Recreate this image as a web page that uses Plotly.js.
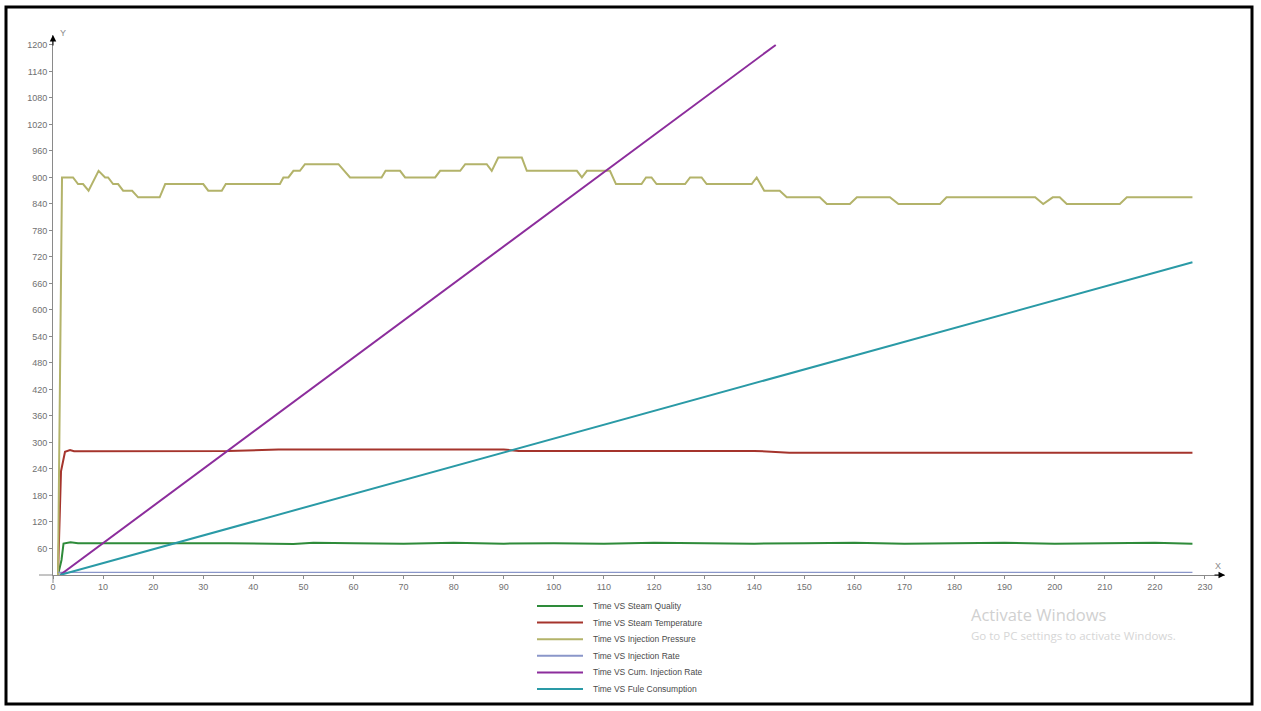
<!DOCTYPE html>
<html>
<head>
<meta charset="utf-8">
<script src="https://cdn.plot.ly/plotly-3.0.1.min.js"></script>
<style>
  html, body { margin: 0; padding: 0; background: #ffffff; }
  #chart { width: 1261px; height: 711px; }
</style>
</head>
<body>
<div id="chart"></div>
<script>
// ---- series data (time in minutes) ----
const qualityT = [1.0, 1.7, 2.1, 3.5, 5, 15, 25, 35, 48, 52, 60, 70, 80, 90, 100, 110, 120, 130, 140, 150, 160, 170, 180, 190, 200, 210, 220, 227.5];
const qualityV = [0, 34, 71, 74, 72, 72, 71, 72, 70, 73, 72, 71, 73, 71, 72, 71, 73, 72, 71, 72, 73, 71, 72, 73, 71, 72, 73, 71];

const temperatureT = [1.0, 1.6, 2.4, 3.4, 4.2, 20, 35, 45, 60, 75, 90, 93, 140, 147, 227.5];
const temperatureV = [0, 235, 279, 283, 280, 280, 281, 284, 284, 283, 284, 281, 281, 277, 277];

const pressureT = [1.0, 1.8, 4.0, 5.0, 6.0, 7.1, 9.1, 10.4, 11.0, 12.0, 13.0, 14.0, 15.8, 17.0, 21.3, 22.4,
  30.0, 31.0, 33.7, 34.5, 45.3, 46.0, 47.0, 48.0, 49.3, 50.3, 57.0, 59.3, 65.6, 66.4, 69.3, 70.3,
  76.3, 77.3, 81.3, 82.3, 86.6, 87.6, 88.9, 93.6, 94.6, 104.6, 105.6, 106.6, 111.2, 112.4, 117.5,
  118.4, 119.5, 120.5, 126.2, 127.2, 129.5, 130.5, 139.5, 140.5, 142.0, 145.1, 146.5, 153.1, 154.5,
  159.1, 160.5, 167.1, 168.8, 177.1, 178.4, 196.1, 197.7, 199.6, 201.0, 202.4, 213.0, 214.4, 227.5];
const pressureV = [0, 900, 900, 885, 885, 870, 915, 900, 900, 885, 885, 870, 870, 855, 855, 885,
  885, 870, 870, 885, 885, 900, 900, 915, 915, 930, 930, 900, 900, 915, 915, 900,
  900, 915, 915, 930, 930, 915, 945, 945, 915, 915, 900, 915, 915, 885, 885,
  900, 900, 885, 885, 900, 900, 885, 885, 900, 870, 870, 855, 855, 840,
  840, 855, 855, 840, 840, 855, 855, 840, 855, 855, 840, 840, 855, 855];

const rateT = [1, 50, 100, 150, 200, 227.5];
const rateV = [6, 6, 6, 6, 6, 6];

const cumRateT = [1.4, 144.3];
const cumRateV = [0, 1200];

const fuelT = [1.4, 227.5];
const fuelV = [0, 708];

const seriesNames = [
  'Time VS Steam Quality',
  'Time VS Steam Temperature',
  'Time VS Injection Pressure',
  'Time VS Injection Rate',
  'Time VS Cum. Injection Rate',
  'Time VS Fule Consumption'
];
const seriesColors = ['#2e8b3a', '#a5342c', '#b3b36a', '#8a96c9', '#8c2d9c', '#2a9aa6'];

const xTicks = [0, 10, 20, 30, 40, 50, 60, 70, 80, 90, 100, 110, 120, 130, 140, 150, 160, 170, 180, 190, 200, 210, 220, 230];
const yTicks = [60, 120, 180, 240, 300, 360, 420, 480, 540, 600, 660, 720, 780, 840, 900, 960, 1020, 1080, 1140, 1200];

// ---- page geometry ----
const W = 1261, H = 711;
const M = { l: 53, r: 36, t: 35, b: 136 };
const plotW = W - M.l - M.r, plotH = H - M.t - M.b;
const px = v => (v - M.l) / plotW;           // pixel x -> paper x
const py = v => (H - M.b - v) / plotH;       // pixel y -> paper y

const xs = [qualityT, temperatureT, pressureT, rateT, cumRateT, fuelT];
const ys = [qualityV, temperatureV, pressureV, rateV, cumRateV, fuelV];
const widths = [2, 2, 2, 1.3, 2, 2];

const traces = seriesNames.map((name, i) => ({
  type: 'scatter',
  mode: 'lines',
  name: name,
  x: xs[i],
  y: ys[i],
  line: { color: seriesColors[i], width: widths[i] },
  cliponaxis: false,
  hoverinfo: 'skip'
}));

const tickFont = { family: 'Liberation Sans, Arial, sans-serif', size: 9, color: '#707070' };
const axisGrey = '#8a8a8a';

const shapes = [
  // outer frame
  { type: 'rect', xref: 'paper', yref: 'paper', x0: px(6), x1: px(1252), y0: py(7), y1: py(704),
    line: { color: '#000', width: 3 }, fillcolor: 'rgba(0,0,0,0)' },
  // short axis stubs past the origin
  { type: 'line', xref: 'paper', yref: 'paper', x0: px(39), x1: 0, y0: 0, y1: 0, line: { color: axisGrey, width: 1 } },
  { type: 'line', xref: 'paper', yref: 'paper', x0: 0, x1: 0, y0: py(583), y1: 0, line: { color: axisGrey, width: 1 } }
];

const annotations = [
  // axis arrow heads and names
  { xref: 'paper', yref: 'paper', x: 0, y: 1, ax: 0, ay: 12, text: '', showarrow: true,
    arrowhead: 2, arrowsize: 1.3, arrowwidth: 1, arrowcolor: '#000' },
  { xref: 'paper', yref: 'paper', x: 1, y: 0, ax: -12, ay: 0, text: '', showarrow: true,
    arrowhead: 2, arrowsize: 1.3, arrowwidth: 1, arrowcolor: '#000' },
  { xref: 'paper', yref: 'paper', x: px(58), y: py(33), xanchor: 'left', yanchor: 'middle', showarrow: false,
    text: 'Y', font: { family: 'Liberation Sans, Arial, sans-serif', size: 9, color: '#8a8a8a' } },
  { xref: 'paper', yref: 'paper', x: px(1218), y: py(566), xanchor: 'center', yanchor: 'middle', showarrow: false,
    text: 'X', font: { family: 'Liberation Sans, Arial, sans-serif', size: 9, color: '#8a8a8a' } },
  // system watermark text
  { xref: 'paper', yref: 'paper', x: px(969), y: py(615), xanchor: 'left', yanchor: 'middle', showarrow: false,
    text: 'Activate Windows', font: { family: 'Open Sans, Noto Sans, sans-serif', size: 16.5, color: '#d0d0d0' } },
  { xref: 'paper', yref: 'paper', x: px(969), y: py(635), xanchor: 'left', yanchor: 'middle', showarrow: false,
    text: 'Go to PC settings to activate Windows.', font: { family: 'Open Sans, Noto Sans, sans-serif', size: 11.5, color: '#d6d6d6' } }
];

// legend: swatch line + label per series
seriesNames.forEach((name, i) => {
  const rowY = 606 + 16.6 * i;
  shapes.push({ type: 'line', xref: 'paper', yref: 'paper', x0: px(537), x1: px(583), y0: py(rowY), y1: py(rowY),
    line: { color: seriesColors[i], width: 2 } });
  annotations.push({ xref: 'paper', yref: 'paper', x: px(591), y: py(rowY), xanchor: 'left', yanchor: 'middle',
    showarrow: false, text: name, font: { family: 'Liberation Sans, Arial, sans-serif', size: 8.5, color: '#4a4a4a' } });
});

const layout = {
  width: W, height: H,
  margin: M,
  paper_bgcolor: '#ffffff',
  plot_bgcolor: '#ffffff',
  showlegend: false,
  xaxis: {
    range: [0, 234],
    tickvals: xTicks,
    ticktext: xTicks.map(String),
    showgrid: false, zeroline: false,
    showline: true, linecolor: axisGrey, linewidth: 1,
    ticks: 'outside', ticklen: 3, tickcolor: axisGrey,
    tickfont: tickFont
  },
  yaxis: {
    range: [0, 1222.5],
    tickvals: yTicks,
    ticktext: yTicks.map(String),
    showgrid: false, zeroline: false,
    showline: true, linecolor: axisGrey, linewidth: 1,
    ticks: 'outside', ticklen: 3, tickcolor: axisGrey,
    tickfont: tickFont
  },
  shapes: shapes,
  annotations: annotations
};

Plotly.newPlot('chart', traces, layout, { staticPlot: true, displayModeBar: false });
</script>
</body>
</html>
